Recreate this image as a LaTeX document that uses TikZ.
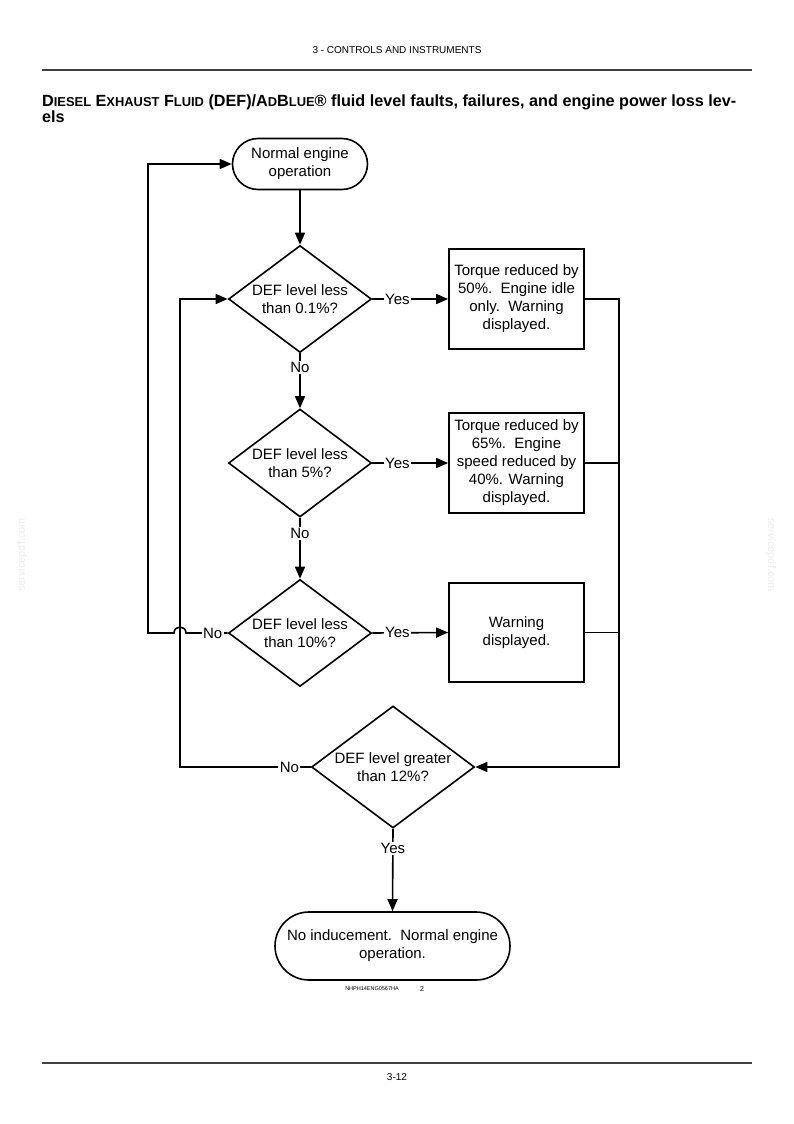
\documentclass[tikz,border=0pt]{standalone}
\usepackage{fontspec}
\setmainfont{Liberation Sans}
\usetikzlibrary{shapes.geometric,arrows.meta}
\newcommand\tsc[1]{{\fontsize{12.9}{14}\selectfont #1}}
\begin{document}
\begin{tikzpicture}[x=1pt,y=-1pt,
  every node/.style={font=\fontsize{15}{18}\selectfont, text=black},
  term/.style={draw, line width=1.6pt, rectangle, align=center, inner sep=0pt},
  dia/.style={draw, line width=1.6pt, diamond, aspect=1.336, inner sep=0pt, align=center},
  proc/.style={draw, line width=1.6pt, rectangle, align=center, inner sep=0pt, minimum width=135pt},
  conn/.style={line width=1.6pt},
  arr/.style={conn, -{Triangle[length=12pt,width=10pt]}},
  lbl/.style={fill=white, inner sep=1.5pt},
  rule/.style={line width=1.4pt, draw=black!75},
]
\useasboundingbox[fill=white] (0,0) rectangle (794,1124);

% header / footer
\node[anchor=base, font=\fontsize{10}{12}\selectfont] (hdr) at (397,53) {3 - CONTROLS AND INSTRUMENTS};
\coordinate (hl) at (42,70); \coordinate (hr) at (752,70);
\draw[rule] (hl) -- (hr);
\coordinate (fl) at (42,1063); \coordinate (fr) at (752,1063);
\draw[rule] (fl) -- (fr);
\node[anchor=base, font=\fontsize{10}{12}\selectfont] (pg) at (397,1080) {3-12};

% title
\node[anchor=base west, inner sep=0pt, font=\bfseries\fontsize{16.2}{18}\selectfont] (t1) at (42,106)
  {D\tsc{IESEL} E\tsc{XHAUST} F\tsc{LUID} (DEF)/A\tsc{D}B\tsc{LUE}® fluid level faults, failures, and engine power loss lev-};
\node[anchor=base west, inner sep=0pt, font=\bfseries\fontsize{16.2}{18}\selectfont] (t2) at (42,122) {els};

% watermarks
\node[rotate=90, text=black!7, font=\fontsize{11}{12}\selectfont] (wl) at (22,555) {servicepdf.com};
\node[rotate=-90, text=black!7, font=\fontsize{11}{12}\selectfont] (wr) at (771,555) {servicepdf.com};

% nodes
\node[term, rounded corners=25.5pt, minimum width=135pt, minimum height=51pt] (start) at (300,164) {Normal engine\\operation};
\node[dia, minimum width=143pt, minimum height=107pt] (d1) at (300,299) {DEF level less\\than 0.1\%?};
\node[dia, minimum width=143pt, minimum height=108pt] (d2) at (300,463) {DEF level less\\than 5\%?};
\node[dia, minimum width=143pt, minimum height=107pt] (d3) at (300,633) {DEF level less\\than 10\%?};
\node[dia, minimum width=163pt, minimum height=122pt] (d4) at (393,767) {DEF level greater\\than 12\%?};
\node[proc, minimum height=100pt] (b1) at (516.5,299) {Torque reduced by\\50\%.\ \ Engine idle\\only.\ \ Warning\\displayed.};
\node[proc, minimum height=100pt] (b2) at (516.5,463) {Torque reduced by\\65\%.\ \ Engine\\speed reduced by\\40\%. Warning\\displayed.};
\node[proc, minimum height=99pt] (b3) at (516.5,632.5) {Warning\\displayed.};
\node[term, rounded corners=34pt, minimum width=235pt, minimum height=68pt] (end) at (392.5,946) {No inducement.\ \ Normal engine\\operation.};

\node[font=\fontsize{5.5}{6}\selectfont] (code) at (372,989) {NHPH14ENG0567HA};
\node[font=\fontsize{7}{8}\selectfont] (fig) at (422,989) {2};

% helper coordinates
\coordinate (rj) at (619,0);
\coordinate (li) at (180,0);
\coordinate (lo) at (148,0);
\coordinate (hopR) at (186,633);
\coordinate (hopL) at (174,633);

% connectors
\draw[arr] (start.south) -- (d1.north);
\draw[arr] (d1.south) -- node[lbl, pos=0.26] {No} (d2.north);
\draw[arr] (d2.south) -- node[lbl, pos=0.26] {No} (d3.north);
\draw[arr] (d1.east) -- node[lbl, pos=0.33] {Yes} (b1.west);
\draw[arr] (d2.east) -- node[lbl, pos=0.33] {Yes} (b2.west);
\draw[arr] (d3.east) -- node[lbl, pos=0.33] {Yes} (b3.west);
\draw[arr] (b1.east) -- (b1.east -| rj) -- (rj |- d4.east) -- (d4.east);
\draw[conn] (b2.east) -- (b2.east -| rj);
\draw[conn] (b3.east) -- (b3.east -| rj);
\draw[arr] (d4.south) -- node[lbl, pos=0.24] {Yes} (end.north);
\draw[arr] (d4.west) -- node[lbl, pos=0.163] {No} (d4.west -| li) -- (li |- d1.west) -- (d1.west);
\draw[arr] (d3.west) -- node[lbl, pos=0.36] {No} (hopR) .. controls +(0,-8) and +(0,-8) .. (hopL) -- (hopL -| lo) -- (lo |- start.west) -- (start.west);
\end{tikzpicture}
\end{document}
